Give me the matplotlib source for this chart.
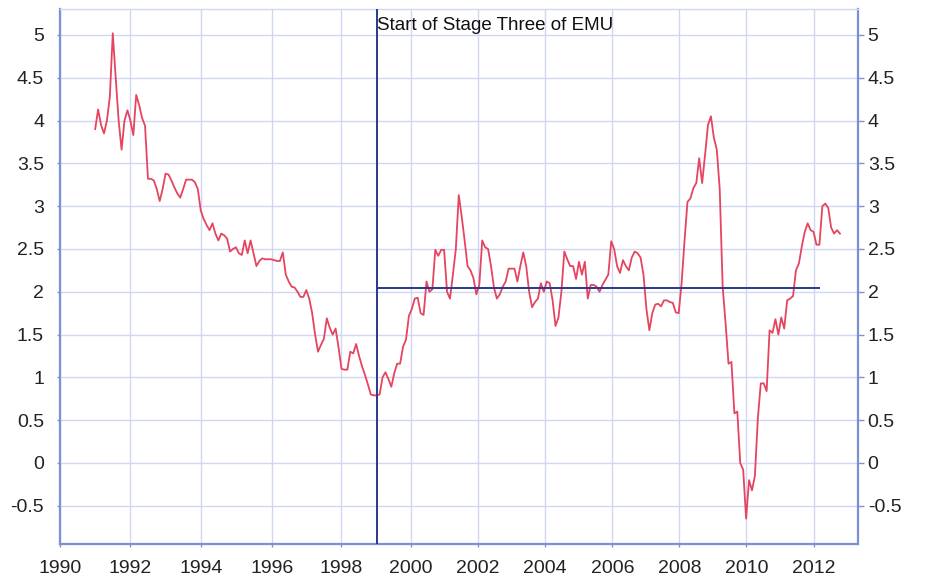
import matplotlib
matplotlib.use('Agg')
import matplotlib.pyplot as plt
import numpy as np

# monthly annual inflation rate, Jan 1991 .. Mar 2012
inflation = [
    3.9, 4.13, 3.95, 3.85, 4.0, 4.28, 5.02, 4.5, 4.0, 3.66, 4.0, 4.12,        # 1991
    4.0, 3.83, 4.3, 4.18, 4.03, 3.94, 3.32, 3.32, 3.3, 3.2, 3.06, 3.2,        # 1992
    3.38, 3.37, 3.3, 3.22, 3.15, 3.1, 3.2, 3.31, 3.31, 3.31, 3.28, 3.2,       # 1993
    2.95, 2.85, 2.78, 2.72, 2.8, 2.68, 2.6, 2.68, 2.66, 2.62, 2.47, 2.5,      # 1994
    2.52, 2.45, 2.43, 2.6, 2.45, 2.6, 2.45, 2.3, 2.36, 2.39, 2.38, 2.38,      # 1995
    2.38, 2.37, 2.36, 2.36, 2.46, 2.2, 2.12, 2.06, 2.05, 2.0, 1.94, 1.94,     # 1996
    2.02, 1.92, 1.75, 1.5, 1.3, 1.38, 1.45, 1.69, 1.58, 1.5, 1.57, 1.35,      # 1997
    1.1, 1.09, 1.09, 1.3, 1.28, 1.39, 1.25, 1.13, 1.03, 0.92, 0.8, 0.79,      # 1998
    0.79, 0.8, 1.0, 1.06, 0.98, 0.89, 1.05, 1.16, 1.16, 1.36, 1.44, 1.72,     # 1999
    1.8, 1.92, 1.93, 1.75, 1.73, 2.12, 2.0, 2.03, 2.49, 2.42, 2.49, 2.49,     # 2000
    2.0, 1.92, 2.2, 2.5, 3.13, 2.88, 2.6, 2.3, 2.25, 2.16, 1.97, 2.08,        # 2001
    2.6, 2.52, 2.5, 2.3, 2.05, 1.92, 1.97, 2.06, 2.12, 2.27, 2.27, 2.27,      # 2002
    2.12, 2.3, 2.46, 2.3, 2.0, 1.82, 1.88, 1.92, 2.1, 2.0, 2.12, 2.1,         # 2003
    1.9, 1.6, 1.7, 2.0, 2.47, 2.38, 2.3, 2.3, 2.15, 2.35, 2.2, 2.35,          # 2004
    1.92, 2.08, 2.08, 2.06, 2.0, 2.08, 2.14, 2.2, 2.59, 2.5, 2.3, 2.22,       # 2005
    2.37, 2.3, 2.25, 2.4, 2.47, 2.45, 2.4, 2.2, 1.8, 1.55, 1.75, 1.85,        # 2006
    1.86, 1.83, 1.9, 1.9, 1.88, 1.87, 1.76, 1.75, 2.1, 2.6, 3.05, 3.09,       # 2007
    3.21, 3.27, 3.56, 3.27, 3.6, 3.95, 4.05, 3.8, 3.66, 3.2, 2.06, 1.63,      # 2008
    1.16, 1.18, 0.58, 0.6, 0.0, -0.08, -0.65, -0.2, -0.32, -0.15, 0.52, 0.93, # 2009
    0.93, 0.84, 1.55, 1.52, 1.68, 1.5, 1.7, 1.57, 1.9, 1.92, 1.95, 2.25,      # 2010
    2.33, 2.53, 2.7, 2.8, 2.72, 2.7, 2.55, 2.55, 3.0, 3.03, 2.98, 2.75,       # 2011
    2.68, 2.72, 2.68,                                                         # 2012
]
first_year = 1991

emu_start = 1999.0
emu_label = 'Start of Stage Three of EMU'
avg_level = 2.05
avg_end = 2011.6

tick_labels = ['1990', '1992', '1994', '1996', '1998', '2000',
               '2002', '2004', '2006', '2008', '2010', '2012']
tick_pos = [1990.0, 1991.99, 1994.0, 1996.02, 1998.0, 1999.97,
            2001.87, 2003.78, 2005.70, 2007.60, 2009.51, 2011.42]
y_ticks = [-0.5, 0, 0.5, 1, 1.5, 2, 2.5, 3, 3.5, 4, 4.5, 5]

plt.rcParams['font.family'] = ['Liberation Sans', 'DejaVu Sans']
plt.rcParams['axes.unicode_minus'] = False

spine_col = '#7f8fd6'
grid_col = '#d0d7f3'
navy = '#27398c'
text_col = '#222222'

x = first_year + np.arange(len(inflation)) / 12.0

fig = plt.figure(figsize=(9.25, 5.79), dpi=100)
ax = fig.add_axes([60 / 925, 34.7 / 579, 798 / 925, 535 / 579])

ax.plot(x, inflation, color='#e6445f', lw=1.3, zorder=4)
ax.axvline(emu_start, color=navy, lw=1.4, zorder=5)
ax.hlines(avg_level, emu_start, avg_end, color=navy, lw=1.4, zorder=5)
ax.text(emu_start + 0.02, 0.969, emu_label, transform=ax.get_xaxis_transform(),
        ha='left', va='center', fontsize=13.5, color='#111111', zorder=6)

ax.set_xlim(1990.0, 2012.68)
ax.set_ylim(-0.95, 5.3)
ax.set_xticks(tick_pos, tick_labels)
ax.set_yticks(y_ticks, [f'{v:g}' for v in y_ticks])
ax.grid(True, color=grid_col, lw=1.0, zorder=0)
ax.set_axisbelow(True)

for side in ['left', 'bottom', 'right']:
    ax.spines[side].set_color(spine_col)
    ax.spines[side].set_linewidth(1.6)
ax.spines['top'].set_color(grid_col)
ax.spines['top'].set_linewidth(1.0)

ax.tick_params(axis='x', length=2.5, width=1, color=spine_col, pad=9,
               labelsize=14, labelcolor=text_col)
ax.tick_params(axis='y', length=2.5, width=1, color=spine_col, pad=9,
               labelsize=14, labelcolor=text_col)

# right hand axis repeating the scale
ax2 = ax.twinx()
ax2.set_ylim(ax.get_ylim())
ax2.set_yticks(y_ticks, [f'{v:g}' for v in y_ticks])
ax2.tick_params(axis='y', length=4, width=1, color=spine_col, pad=3,
                labelsize=14, labelcolor=text_col)
for side in ['left', 'bottom', 'right', 'top']:
    ax2.spines[side].set_visible(False)

fig.savefig('out.png', dpi=100, facecolor='white')
